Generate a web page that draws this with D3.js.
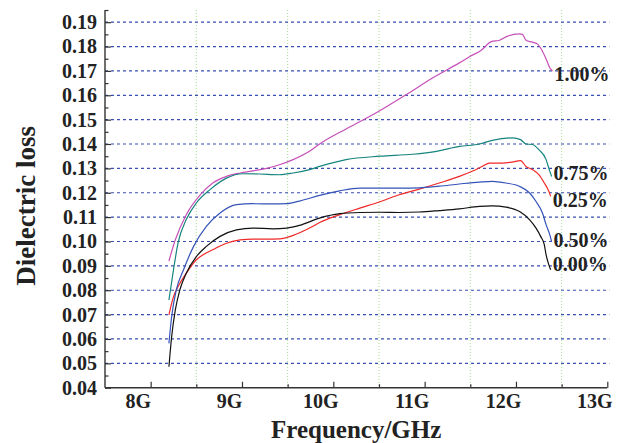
<!DOCTYPE html>
<html>
<head>
<meta charset="utf-8">
<script src="https://cdn.jsdelivr.net/npm/d3@7"></script>
<style>
  html, body { margin: 0; padding: 0; background: #fff; }
  svg { display: block; }
  text { font-family: "Liberation Serif", "Times New Roman", serif; font-weight: bold; fill: #222; }
</style>
</head>
<body>
<svg id="chart" width="623" height="443"></svg>
<script>
// ---------------- data ----------------
const seriesNames = ["1.00%", "0.75%", "0.25%", "0.50%", "0.00%"];
const seriesColors = ["#c750b9", "#16857f", "#f02828", "#3553b8", "#111111"];

const freq100 = [8.20, 8.27, 8.39, 8.54, 8.68, 8.83, 8.98, 9.12, 9.27, 9.41, 9.56, 9.74, 9.85, 10.14, 10.47, 10.80, 11.09, 11.38, 11.49, 11.62, 11.73, 11.82, 11.91, 12.04, 12.07, 12.11, 12.18, 12.24, 12.29, 12.34, 12.37, 12.40];
const loss100 = [0.092, 0.1007, 0.111, 0.119, 0.124, 0.1267, 0.1281, 0.129, 0.130, 0.1315, 0.1336, 0.137, 0.1400, 0.1462, 0.1528, 0.1603, 0.1672, 0.1733, 0.1758, 0.1785, 0.1820, 0.1826, 0.1843, 0.1852, 0.1850, 0.1826, 0.1818, 0.1809, 0.1781, 0.1740, 0.1713, 0.1700];

const freq075 = [8.20, 8.25, 8.30, 8.39, 8.50, 8.65, 8.83, 9.01, 9.19, 9.41, 9.56, 9.74, 9.85, 10.14, 10.51, 10.87, 11.13, 11.38, 11.60, 11.74, 11.96, 12.05, 12.11, 12.18, 12.25, 12.33, 12.36, 12.39];
const loss075 = [0.076, 0.0884, 0.0994, 0.109, 0.1158, 0.1213, 0.126, 0.1278, 0.1277, 0.1274, 0.1281, 0.1295, 0.1308, 0.1336, 0.1350, 0.1358, 0.1370, 0.1390, 0.1400, 0.1415, 0.1425, 0.1418, 0.1400, 0.1398, 0.1377, 0.1336, 0.1300, 0.1267];

const freq025 = [8.20, 8.25, 8.30, 8.39, 8.50, 8.57, 8.68, 8.83, 8.98, 9.12, 9.27, 9.41, 9.56, 9.74, 9.85, 10.07, 10.29, 10.51, 10.72, 10.94, 11.16, 11.38, 11.52, 11.63, 11.71, 11.85, 11.96, 12.05, 12.11, 12.18, 12.25, 12.31, 12.36, 12.38];
const loss025 = [0.0699, 0.0774, 0.0815, 0.087, 0.0925, 0.0945, 0.0966, 0.0993, 0.1007, 0.1010, 0.1010, 0.1011, 0.1025, 0.1055, 0.1078, 0.1110, 0.1137, 0.1163, 0.1192, 0.1215, 0.1240, 0.1267, 0.1288, 0.1308, 0.1322, 0.1322, 0.1326, 0.1332, 0.1308, 0.1295, 0.1274, 0.1240, 0.1206, 0.1185];

const freq050 = [8.20, 8.23, 8.28, 8.36, 8.47, 8.61, 8.76, 8.94, 9.12, 9.34, 9.49, 9.63, 9.85, 10.07, 10.29, 10.51, 10.72, 10.94, 11.16, 11.38, 11.60, 11.74, 11.89, 12.04, 12.15, 12.22, 12.29, 12.33, 12.37, 12.39];
const loss050 = [0.0582, 0.0692, 0.080, 0.0884, 0.098, 0.1062, 0.1117, 0.1151, 0.1155, 0.1154, 0.1155, 0.1166, 0.1189, 0.1208, 0.1219, 0.1219, 0.1219, 0.1220, 0.1227, 0.1236, 0.1244, 0.1247, 0.1240, 0.1226, 0.1199, 0.1164, 0.1117, 0.1069, 0.1028, 0.1000];

const freq000 = [8.20, 8.23, 8.27, 8.32, 8.39, 8.50, 8.61, 8.76, 8.94, 9.12, 9.34, 9.49, 9.63, 9.85, 10.07, 10.29, 10.51, 10.72, 10.94, 11.16, 11.38, 11.60, 11.74, 11.89, 12.04, 12.15, 12.22, 12.27, 12.31, 12.33, 12.36, 12.38];
const loss000 = [0.0486, 0.061, 0.0719, 0.0802, 0.087, 0.0938, 0.098, 0.1021, 0.1048, 0.1055, 0.1052, 0.1055, 0.1066, 0.1096, 0.1114, 0.1119, 0.1120, 0.1119, 0.1121, 0.1127, 0.1134, 0.1144, 0.1146, 0.1141, 0.1123, 0.1089, 0.1055, 0.1021, 0.0987, 0.0945, 0.0904, 0.0884];

// label anchor levels (data units, baseline of each end label)
const labelLevels = [0.1658, 0.1254, 0.1141, 0.0977, 0.0877];

const xTicks = [8, 9, 10, 11, 12, 13];
const xTickLabels = ["8G", "9G", "10G", "11G", "12G", "13G"];
const xMinorTicks = [8.5, 9.5, 10.5, 11.5, 12.5];
const yTicks = [0.04, 0.05, 0.06, 0.07, 0.08, 0.09, 0.10, 0.11, 0.12, 0.13, 0.14, 0.15, 0.16, 0.17, 0.18, 0.19];
const yMinorTicks = [0.045, 0.055, 0.065, 0.075, 0.085, 0.095, 0.105, 0.115, 0.125, 0.135, 0.145, 0.155, 0.165, 0.175, 0.185, 0.195];
const xTitle = "Frequency/GHz";
const yTitle = "Dielectric loss";

// ---------------- chart ----------------
const freqs = [freq100, freq075, freq025, freq050, freq000];
const losses = [loss100, loss075, loss025, loss050, loss000];
const series = seriesNames.map((name, i) => ({
  name, color: seriesColors[i], level: labelLevels[i],
  points: freqs[i].map((f, j) => [f, losses[i][j]])
}));

const svg = d3.select("#chart");
const pLeft = 105, pRight = 607.3, pTop = 10, pBottom = 387.7;
const serif = '"Liberation Serif", "Times New Roman", serif';

const x = d3.scaleLinear().domain([7.5, 13]).range([pLeft, pRight]);
const y = d3.scaleLinear().domain([0.04, 0.195]).range([pBottom, pTop]);

// vertical minor grid (green dotted)
svg.append("g").selectAll("line").data(xMinorTicks).join("line")
  .attr("x1", d => x(d)).attr("x2", d => x(d))
  .attr("y1", pTop).attr("y2", pBottom)
  .attr("stroke", "#a5dc95").attr("stroke-width", 1)
  .attr("stroke-dasharray", "1,2");

// horizontal grid (blue dashed)
svg.append("g").selectAll("line").data(yTicks.filter(d => d > 0.04)).join("line")
  .attr("x1", pLeft).attr("x2", pRight + 2)
  .attr("y1", d => y(d)).attr("y2", d => y(d))
  .attr("stroke", "#3a4fae").attr("stroke-width", 1.2)
  .attr("stroke-dasharray", "3,3");

// axes with inward ticks
const xAxis = d3.axisBottom(x).tickValues(xTicks).tickSize(-6).tickPadding(14)
  .tickFormat((d, i) => xTickLabels[i]);
const gx = svg.append("g").attr("transform", `translate(0,${pBottom})`).call(xAxis);
gx.select(".domain").remove();
gx.selectAll(".tick line").attr("stroke", "#333").attr("stroke-width", 1.2);
gx.selectAll(".tick text").attr("font-size", 20).attr("dy", "0.71em").attr("y", 6).attr("x", -13)
  .style("font-family", serif).style("font-weight", "bold").attr("fill", "#222");

svg.append("g").attr("transform", `translate(0,${pBottom})`)
  .call(d3.axisBottom(x).tickValues(xMinorTicks).tickSize(-3.5).tickFormat(""))
  .call(g => g.select(".domain").remove())
  .selectAll(".tick line").attr("stroke", "#333").attr("stroke-width", 1.2);

const yAxis = d3.axisLeft(y).tickValues(yTicks).tickSize(-6).tickPadding(14)
  .tickFormat(d3.format(".2f"));
const gy = svg.append("g").attr("transform", `translate(${pLeft},0)`).call(yAxis);
gy.select(".domain").remove();
gy.selectAll(".tick line").attr("stroke", "#333").attr("stroke-width", 1.2);
gy.selectAll(".tick text").attr("font-size", 20).attr("x", -8)
  .style("font-family", serif).style("font-weight", "bold").attr("fill", "#222");

svg.append("g").attr("transform", `translate(${pLeft},0)`)
  .call(d3.axisLeft(y).tickValues(yMinorTicks).tickSize(-3.5).tickFormat(""))
  .call(g => g.select(".domain").remove())
  .selectAll(".tick line").attr("stroke", "#333").attr("stroke-width", 1.2);

// axis lines
svg.append("line").attr("x1", pLeft).attr("x2", pLeft).attr("y1", pTop).attr("y2", pBottom)
  .attr("stroke", "#333").attr("stroke-width", 1.4);
svg.append("line").attr("x1", pLeft).attr("x2", pRight).attr("y1", pBottom).attr("y2", pBottom)
  .attr("stroke", "#333").attr("stroke-width", 1.4);

// curves
const line = d3.line().x(d => x(d[0])).y(d => y(d[1])).curve(d3.curveMonotoneX);
svg.append("g").selectAll("path").data(series).join("path")
  .attr("d", d => line(d.points))
  .attr("fill", "none").attr("stroke", d => d.color).attr("stroke-width", 1.2);

// end labels
svg.append("g").selectAll("text").data(series).join("text")
  .attr("x", d => x(d.points[d.points.length - 1][0]) + 2)
  .attr("y", d => y(d.level))
  .attr("font-size", 20)
  .text(d => d.name);

// titles
svg.append("text").attr("x", (pLeft + pRight) / 2).attr("y", 438)
  .attr("text-anchor", "middle").attr("font-size", 25).text(xTitle);
svg.append("text").attr("transform", `translate(35,${(pTop + pBottom) / 2 + 7}) rotate(-90)`)
  .attr("text-anchor", "middle").attr("font-size", 27).text(yTitle);
</script>
</body>
</html>
